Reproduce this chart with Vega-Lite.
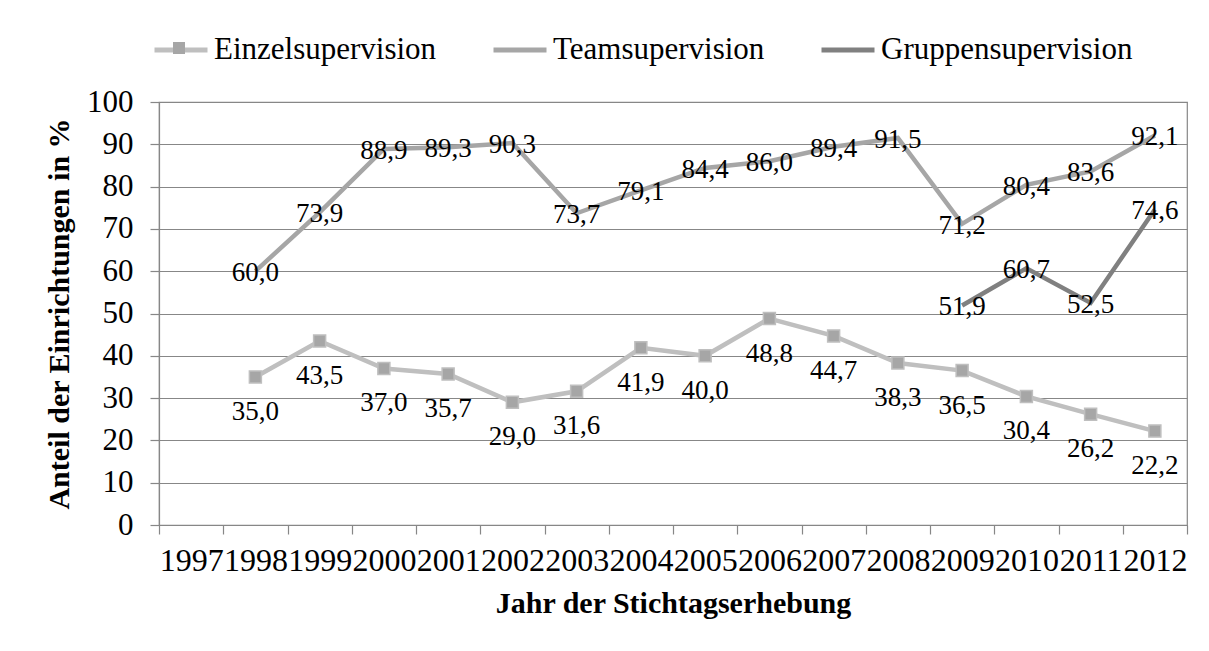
{
  "$schema": "https://vega.github.io/schema/vega-lite/v6.json",
  "autosize": {"type": "none"},
  "width": 1028,
  "height": 423,
  "padding": {"left": 159, "top": 102, "right": 22, "bottom": 126},
  "background": "white",
  "config": {
    "locale": {"number": {"decimal": ",", "thousands": ".", "grouping": [3], "currency": ["", " €"]}},
    "font": "Liberation Serif",
    "view": {"stroke": "#878787", "strokeWidth": 1.2},
    "axis": {"labelFont": "Liberation Serif", "titleFont": "Liberation Serif", "labelColor": "black", "titleColor": "black", "domainColor": "#878787", "tickColor": "#878787", "gridColor": "#878787", "gridWidth": 1.2, "domainWidth": 1.2, "tickWidth": 1.2}
  },
  "data": {"values": [
    {"year": "1998", "series": "Einzelsupervision", "value": 35.0},
    {"year": "1999", "series": "Einzelsupervision", "value": 43.5},
    {"year": "2000", "series": "Einzelsupervision", "value": 37.0},
    {"year": "2001", "series": "Einzelsupervision", "value": 35.7},
    {"year": "2002", "series": "Einzelsupervision", "value": 29.0},
    {"year": "2003", "series": "Einzelsupervision", "value": 31.6},
    {"year": "2004", "series": "Einzelsupervision", "value": 41.9},
    {"year": "2005", "series": "Einzelsupervision", "value": 40.0},
    {"year": "2006", "series": "Einzelsupervision", "value": 48.8},
    {"year": "2007", "series": "Einzelsupervision", "value": 44.7},
    {"year": "2008", "series": "Einzelsupervision", "value": 38.3},
    {"year": "2009", "series": "Einzelsupervision", "value": 36.5},
    {"year": "2010", "series": "Einzelsupervision", "value": 30.4},
    {"year": "2011", "series": "Einzelsupervision", "value": 26.2},
    {"year": "2012", "series": "Einzelsupervision", "value": 22.2},
    {"year": "1998", "series": "Teamsupervision", "value": 60.0},
    {"year": "1999", "series": "Teamsupervision", "value": 73.9},
    {"year": "2000", "series": "Teamsupervision", "value": 88.9},
    {"year": "2001", "series": "Teamsupervision", "value": 89.3},
    {"year": "2002", "series": "Teamsupervision", "value": 90.3},
    {"year": "2003", "series": "Teamsupervision", "value": 73.7},
    {"year": "2004", "series": "Teamsupervision", "value": 79.1},
    {"year": "2005", "series": "Teamsupervision", "value": 84.4},
    {"year": "2006", "series": "Teamsupervision", "value": 86.0},
    {"year": "2007", "series": "Teamsupervision", "value": 89.4},
    {"year": "2008", "series": "Teamsupervision", "value": 91.5},
    {"year": "2009", "series": "Teamsupervision", "value": 71.2},
    {"year": "2010", "series": "Teamsupervision", "value": 80.4},
    {"year": "2011", "series": "Teamsupervision", "value": 83.6},
    {"year": "2012", "series": "Teamsupervision", "value": 92.1},
    {"year": "2009", "series": "Gruppensupervision", "value": 51.9},
    {"year": "2010", "series": "Gruppensupervision", "value": 60.7},
    {"year": "2011", "series": "Gruppensupervision", "value": 52.5},
    {"year": "2012", "series": "Gruppensupervision", "value": 74.6}
  ]},
  "encoding": {
    "x": {
      "field": "year", "type": "ordinal",
      "scale": {"domain": ["1997","1998","1999","2000","2001","2002","2003","2004","2005","2006","2007","2008","2009","2010","2011","2012"], "paddingInner": 0, "paddingOuter": 0},
      "axis": {"title": "Jahr der Stichtagserhebung", "labelAngle": 0, "labelFontSize": 32, "labelOverlap": false, "labelBound": false, "tickBand": "extent", "tickSize": 9, "labelPadding": 11, "titleFontSize": 30, "titleFontWeight": "bold", "titlePadding": 12, "grid": false}
    },
    "y": {
      "field": "value", "type": "quantitative",
      "scale": {"domain": [0, 100], "nice": false},
      "axis": {"title": "Anteil der Einrichtungen in %", "values": [0,10,20,30,40,50,60,70,80,90,100], "labelFontSize": 31, "tickSize": 9, "labelPadding": 17, "titleFontSize": 30, "titleFontWeight": "bold", "titlePadding": 12, "grid": true}
    }
  },
  "layer": [
    {
      "mark": {"type": "line", "strokeWidth": 4.5},
      "encoding": {
        "color": {
          "field": "series", "type": "nominal",
          "scale": {"domain": ["Einzelsupervision", "Teamsupervision", "Gruppensupervision"], "range": ["#BFBFBF", "#A6A6A6", "#808080"]},
          "legend": {"title": null, "orient": "none", "direction": "horizontal", "legendX": -7, "legendY": -81, "symbolType": "stroke", "symbolSize": 2809, "symbolStrokeWidth": 5, "labelFontSize": 31, "labelFont": "Liberation Serif", "labelColor": "black", "labelLimit": 0, "labelOffset": 4, "columnPadding": 46, "zindex": 1}
        }
      }
    },
    {
      "transform": [{"filter": "datum.series === 'Einzelsupervision'"}],
      "mark": {"type": "point", "filled": true, "fill": "#A6A6A6", "stroke": "#BFBFBF", "strokeWidth": 1.5, "size": 144, "opacity": 1},
      "encoding": {
        "shape": {
          "field": "series", "type": "nominal",
          "scale": {"domain": ["Einzelsupervision"], "range": ["square"]},
          "legend": {"title": null, "orient": "none", "legendX": 13, "legendY": -61, "symbolSize": 144, "symbolFillColor": "#A6A6A6", "symbolStrokeColor": "#BFBFBF", "symbolStrokeWidth": 1.5, "labelExpr": "''", "labelFontSize": 12, "zindex": 2}
        }
      }
    },
    {
      "transform": [{"filter": "datum.series === 'Einzelsupervision'"}],
      "mark": {"type": "text", "fontSize": 27, "font": "Liberation Serif", "color": "black", "dy": 35, "baseline": "middle"},
      "encoding": {"text": {"field": "value", "type": "quantitative", "format": ".1f"}}
    },
    {
      "transform": [{"filter": "datum.series !== 'Einzelsupervision'"}],
      "mark": {"type": "text", "fontSize": 27, "font": "Liberation Serif", "color": "black", "dy": 2, "baseline": "middle"},
      "encoding": {"text": {"field": "value", "type": "quantitative", "format": ".1f"}}
    }
  ]
}
